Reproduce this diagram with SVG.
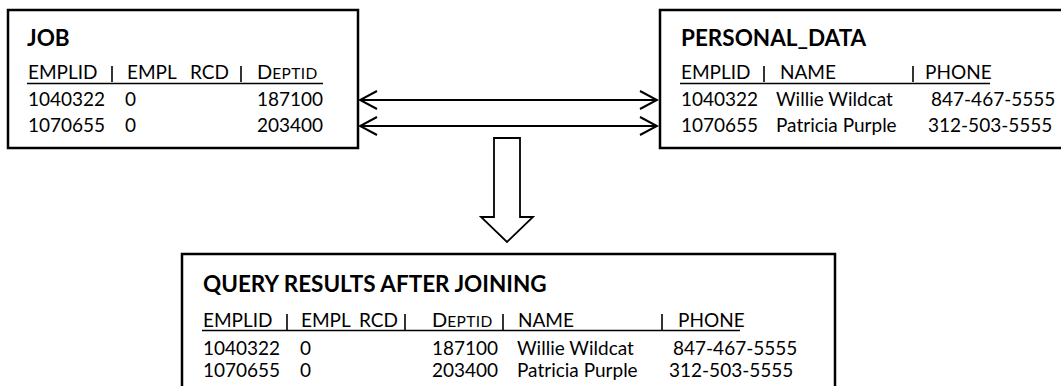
<svg xmlns="http://www.w3.org/2000/svg" width="1061" height="386" viewBox="0 0 1061 386">
<style>
.box{fill:#fff;stroke:#000;stroke-width:2.5}
.t{font-family:Lato,"Liberation Sans",sans-serif;font-size:19px;fill:#000}
.h{font-family:Lato,"Liberation Sans",sans-serif;font-size:22.5px;font-weight:bold;fill:#000}
.cap{font-size:20px}
.sc{font-size:15.5px;letter-spacing:0.4px}
.ul{stroke:#000;stroke-width:1.6}
.bar{stroke:#000;stroke-width:1.6}
.conn{stroke:#000;stroke-width:2;fill:none}
</style>
<defs>
<marker id="chev" viewBox="0 0 20 20" refX="18" refY="10" markerWidth="20" markerHeight="20" markerUnits="userSpaceOnUse" orient="auto-start-reverse">
<path d="M1,1 L18,10 L1,19" fill="none" stroke="#000" stroke-width="2"/>
</marker>
</defs>
<rect width="1061" height="386" fill="#fff"/>
<g id="job">
<rect class="box" x="8" y="10" width="350" height="138"/>
<text class="h" x="27" y="46">JOB</text>
<text class="t" x="28" y="79">EMPLID</text>
<line class="bar" x1="112" y1="66" x2="112" y2="82"/>
<text class="t" x="127" y="79">EMPL</text>
<text class="t" x="190" y="79">RCD</text>
<line class="bar" x1="241" y1="66" x2="241" y2="82"/>
<text class="t" x="257" y="79"><tspan class="cap">D</tspan><tspan class="sc">EPTID</tspan></text>
<line class="ul" x1="27" y1="83.5" x2="323" y2="83.5"/>
<text class="t" x="28" y="106">1040322</text>
<text class="t" x="125" y="106">0</text>
<text class="t" x="257" y="106">187100</text>
<text class="t" x="28" y="132">1070655</text>
<text class="t" x="125" y="132">0</text>
<text class="t" x="257" y="132">203400</text>
</g>
<g id="personal_data">
<rect class="box" x="660" y="10" width="410" height="138"/>
<text class="h" x="681" y="46">PERSONAL_DATA</text>
<text class="t" x="681" y="79">EMPLID</text>
<line class="bar" x1="764" y1="66" x2="764" y2="82"/>
<text class="t" x="780" y="79">NAME</text>
<line class="bar" x1="913" y1="66" x2="913" y2="82"/>
<text class="t" x="925" y="79">PHONE</text>
<line class="ul" x1="680" y1="83.5" x2="990" y2="83.5"/>
<text class="t" x="681" y="106">1040322</text>
<text class="t" x="776" y="106">Willie Wildcat</text>
<text class="t" x="931" y="106">847-467-5555</text>
<text class="t" x="681" y="132">1070655</text>
<text class="t" x="776" y="132">Patricia Purple</text>
<text class="t" x="928" y="132">312-503-5555</text>
</g>
<g id="query_results">
<rect class="box" x="182" y="254" width="653" height="140"/>
<text class="h" x="203" y="292">QUERY RESULTS AFTER JOINING</text>
<text class="t" x="203" y="327">EMPLID</text>
<line class="bar" x1="287" y1="314" x2="287" y2="330"/>
<text class="t" x="301" y="327">EMPL</text>
<text class="t" x="359" y="327">RCD</text>
<line class="bar" x1="405" y1="314" x2="405" y2="330"/>
<text class="t" x="432" y="327"><tspan class="cap">D</tspan><tspan class="sc">EPTID</tspan></text>
<line class="bar" x1="503" y1="314" x2="503" y2="330"/>
<text class="t" x="518" y="327">NAME</text>
<line class="bar" x1="662" y1="314" x2="662" y2="330"/>
<text class="t" x="678" y="327">PHONE</text>
<line class="ul" x1="202" y1="330.5" x2="740" y2="330.5"/>
<text class="t" x="203" y="355">1040322</text>
<text class="t" x="300" y="355">0</text>
<text class="t" x="432" y="355">187100</text>
<text class="t" x="517" y="355">Willie Wildcat</text>
<text class="t" x="673" y="355">847-467-5555</text>
<text class="t" x="203" y="377">1070655</text>
<text class="t" x="300" y="377">0</text>
<text class="t" x="432" y="377">203400</text>
<text class="t" x="517" y="377">Patricia Purple</text>
<text class="t" x="669" y="377">312-503-5555</text>
</g>
<g id="connectors">
<line class="conn" x1="360" y1="100" x2="657" y2="100" marker-start="url(#chev)" marker-end="url(#chev)"/>
<line class="conn" x1="360" y1="126" x2="657" y2="126" marker-start="url(#chev)" marker-end="url(#chev)"/>
<polygon points="494,138 520,138 520,217 533,217 507,242 481,217 494,217" fill="#fff" stroke="#000" stroke-width="1.8" stroke-linejoin="miter"/>
</g>
</svg>
